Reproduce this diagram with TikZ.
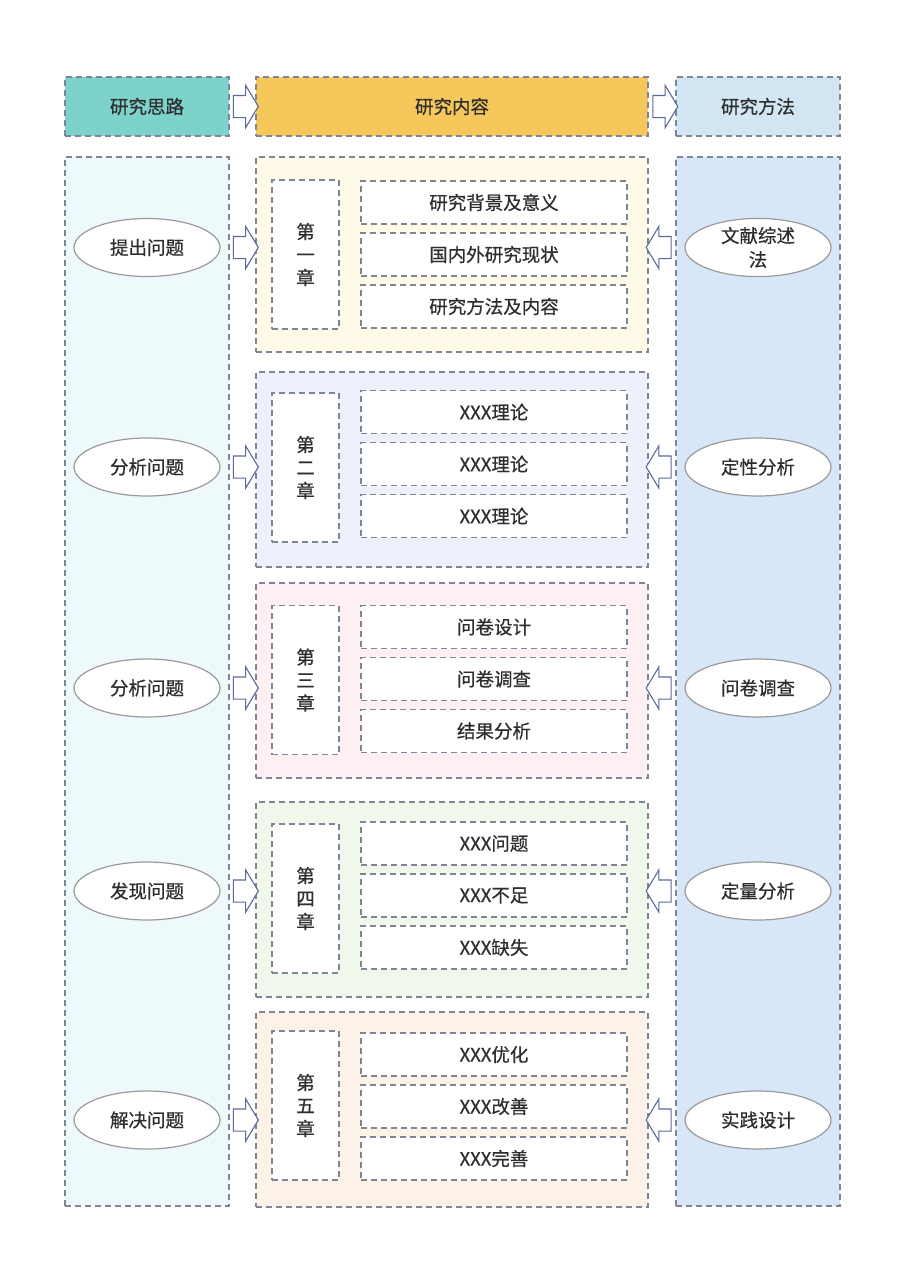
\documentclass[tikz,border=0pt]{standalone}
\usepackage{fontspec}
\setmainfont{Noto Sans CJK SC}[BoldFont=Noto Sans CJK SC, BoldFeatures={FakeBold=0.6}]
\usetikzlibrary{shapes.arrows,shapes.geometric,calc}
\definecolor{dashgray}{HTML}{7D8597}
\definecolor{txt}{HTML}{2E2E2E}
\definecolor{cteal}{HTML}{7DD3CB}
\definecolor{cyel}{HTML}{F6C75A}
\definecolor{chead}{HTML}{D3E6F4}
\definecolor{cleft}{HTML}{EEF9FC}
\definecolor{cright}{HTML}{D8E7F8}
\definecolor{cha}{HTML}{FFFAE8}
\definecolor{chb}{HTML}{EEF0FB}
\definecolor{chc}{HTML}{FDEFF2}
\definecolor{chd}{HTML}{F0F8EB}
\definecolor{che}{HTML}{FDF2E8}
\definecolor{arrowc}{HTML}{5A6A9A}
\definecolor{ellc}{HTML}{9A9A9A}
\begin{document}
\begin{tikzpicture}[x=1pt,y=-1pt,
  dbox/.style={draw=dashgray, dash pattern=on 6pt off 4pt, line width=1.4pt, inner sep=0pt, text=txt, font=\fontsize{18.5}{20}\selectfont\bfseries},
  hbox/.style={dbox, minimum width=164pt, minimum height=59pt},
  colbox/.style={dbox, minimum width=164pt, minimum height=1049pt},
  chbox/.style={dbox, minimum width=392pt, minimum height=195pt},
  lblbox/.style={dbox, fill=white, minimum width=67pt, minimum height=149pt, align=center, font=\fontsize{18.5}{23}\selectfont\bfseries},
  subbox/.style={dbox, fill=white, minimum width=266pt, minimum height=43pt},
  oval/.style={ellipse, draw=ellc, line width=1.2pt, fill=white, minimum width=146pt, minimum height=58pt, inner sep=0pt, align=center, text=txt, font=\fontsize{18.5}{24}\selectfont\bfseries},
  barrow/.style={single arrow, draw=arrowc, fill=white, line width=1.1pt, minimum height=25pt, inner xsep=0pt, inner ysep=10.5pt, single arrow head extend=10pt, single arrow tip angle=118},
]
\useasboundingbox[fill=white] (0,0) rectangle (905,1280);
% header
\node[hbox, fill=cteal] (h1) at (147,106.5) {研究思路};
\node[hbox, fill=cyel, minimum width=392pt] (h2) at (452,106.5) {研究内容};
\node[hbox, fill=chead] (h3) at (758,106.5) {研究方法};
\node[barrow] (ha1) at ($(h1.east)!0.5!(h2.west)$) {};
\node[barrow] (ha2) at ($(h2.east)!0.5!(h3.west)$) {};
% columns
\node[colbox, fill=cleft] (lcol) at (147,681.5) {};
\node[colbox, fill=cright] (rcol) at (758,681.5) {};
% chapters
\foreach \n/\cy/\lcy/\scy/\col/\num/\a/\b/\c/\ly/\l/\r in {
  1/254.5/254.5/254.5/cha/一/研究背景及意义/国内外研究现状/研究方法及内容/247.5/提出问题/{文献综述\\法},
  2/469.5/467.5/464/chb/二/XXX理论/XXX理论/XXX理论/467/分析问题/定性分析,
  3/680.5/680/679/chc/三/问卷设计/问卷调查/结果分析/688/分析问题/问卷调查,
  4/899.5/898.5/895.5/chd/四/XXX问题/XXX不足/XXX缺失/891/发现问题/定量分析,
  5/1109.5/1105.5/1106.5/che/五/XXX优化/XXX改善/XXX完善/1120/解决问题/实践设计}{
  \node[chbox, fill=\col] (ch\n) at (452,\cy) {};
  \node[lblbox] (lb\n) at (305.5,\lcy) {第\\\num\\章};
  \node[subbox] (s\n a) at (494,\scy-52) {\a};
  \node[subbox] (s\n b) at (494,\scy) {\b};
  \node[subbox] (s\n c) at (494,\scy+52) {\c};
  \node[oval] (le\n) at (147,\ly) {\l};
  \node[oval] (re\n) at (758,\ly) {\r};
  \node[barrow] (la\n) at ($(le\n -| lcol.east)!0.5!(le\n -| ch\n.west)$) {};
  \node[barrow, shape border rotate=180] (ra\n) at ($(re\n -| ch\n.east)!0.5!(re\n -| rcol.west)$) {};
}
\end{tikzpicture}
\end{document}
